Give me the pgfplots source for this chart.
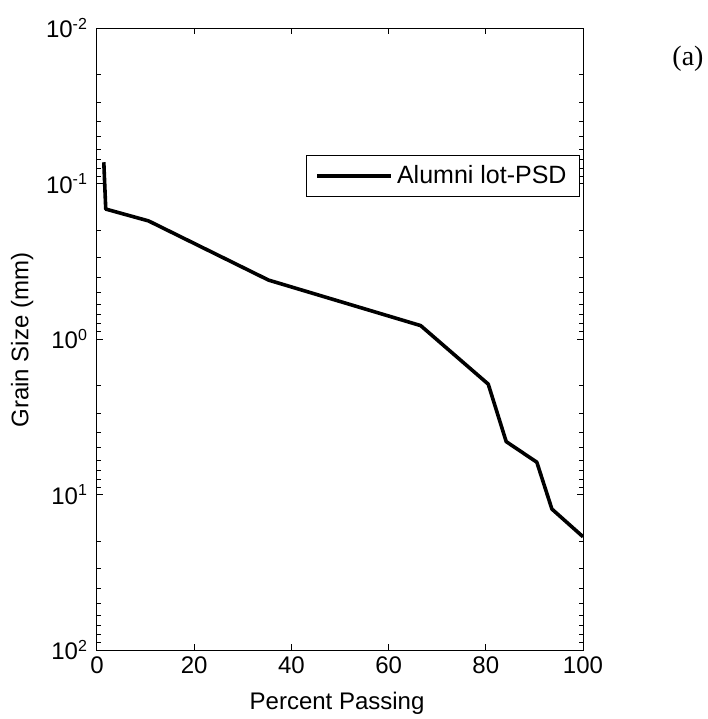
\documentclass[border=0pt]{standalone}
\usepackage{fontspec}
\setmainfont{Liberation Sans}
\newfontfamily\timesfont{Liberation Serif}
\usepackage{pgfplots}
\pgfplotsset{compat=1.18}
\begin{document}
\begin{tikzpicture}
\useasboundingbox (0,0) rectangle (354pt,359.5pt);
\begin{axis}[
  at={(48.5pt,34.5pt)}, anchor=south west,
  scale only axis, width=243pt, height=311pt,
  xmin=0, xmax=100, ymin=1e-2, ymax=1e2,
  ymode=log, y dir=reverse,
  xtick={0,20,40,60,80,100},
  ytick={1e-2,1e-1,1,10,100},
  yticklabels={10\textsuperscript{-2},10\textsuperscript{-1},10\textsuperscript{0},10\textsuperscript{1},10\textsuperscript{2}},
  /pgf/number format/assume math mode=true,
  tick align=inside, tick pos=both,
  major tick length=3pt, minor tick length=2pt,
  every tick/.style={black, line width=0.5pt},
  axis line style={line width=0.5pt},
  tick label style={font=\fontsize{12}{14}\selectfont},
  yticklabel style={xshift=-1pt},
  label style={font=\fontsize{12}{14}\selectfont},
  xlabel={Percent Passing},
  ylabel={Grain Size (mm)},
  xlabel style={at={(axis description cs:0.494,-0.085)}, anchor=center},
  ylabel style={at={(axis description cs:-0.154,0.498)}, anchor=center},
  legend style={at={(0.43,0.796)}, anchor=north west, draw=black, line width=0.5pt,
    font=\fontsize{12.5}{14}\selectfont, inner xsep=4.5pt, inner ysep=3pt},
  legend cell align=left,
  legend image code/.code={\draw[#1, line width=1.8pt] (0cm,0cm) -- (1.3cm,0cm);},
]
\addplot[black, line width=1.8pt, line join=round] coordinates {
(1.4, 0.073)
(1.8, 0.146)
(10.6, 0.174)
(35.3, 0.418)
(66.6, 0.82)
(80.5, 1.95)
(84.2, 4.57)
(90.5, 6.2)
(93.6, 12.4)
(100, 18.7)
};
\addlegendentry{Alumni lot-PSD}
\end{axis}
\node[font=\timesfont\fontsize{14}{16}\selectfont] at (344pt,330pt) {(a)};
\end{tikzpicture}
\end{document}
